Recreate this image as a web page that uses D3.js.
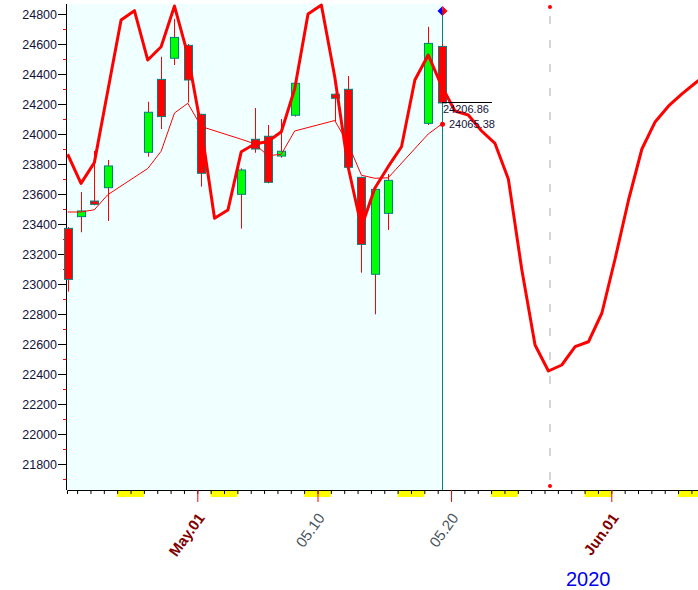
<!DOCTYPE html>
<html><head><meta charset="utf-8">
<script src="https://cdn.jsdelivr.net/npm/d3@7"></script>
<style>body{margin:0;background:#fff}svg{display:block}text{font-family:"Liberation Sans",Arial,sans-serif}</style>
</head><body>
<svg id="chart" width="698" height="590"></svg>
<script>
// ---------- data ----------
const candleDates = ["2020-04-21","2020-04-22","2020-04-23","2020-04-24","2020-04-27","2020-04-28","2020-04-29","2020-04-30","2020-05-01",
  "2020-05-04","2020-05-05","2020-05-06","2020-05-07","2020-05-08","2020-05-11","2020-05-12","2020-05-13","2020-05-14","2020-05-15",
  "2020-05-18","2020-05-19"];
const opens  = [23371,23449,23553,23642,23878,24364,24505,24591,24131,23598,23965,23985,23853,24125,24265,24298,23711,23065,23471,24071,24584];
const highs  = [23380,23613,23887,23827,24215,24515,24767,24600,24135,23771,24173,24060,24100,24345,24270,24387,23715,23635,23733,24715,24600];
const lows   = [22949,23345,23525,23420,23849,24033,24460,24210,23649,23369,23875,23671,23842,24116,24082,23778,23075,22798,23360,24060,24200];
const closes = [23031,23487,23531,23787,24145,24116,24644,24360,23738,23760,23900,23678,23885,24338,24238,23778,23264,23631,23691,24604,24206.86];
const maValues = [23480,23480,23495,23595,23770,23885,24140,24205,24050,23965,23935,23855,23865,24020,24090,23935,23725,23705,23708,24000,24065.38];

// thick forecast line, one value per calendar day from lineStart
const lineStart = "2020-04-21";
const lineValues = [23865,23671,23809,24285,24760,24822,24493,24582,24853,24527,24040,23438,23493,23882,23933,23950,24015,24300,24800,24860,
  24382,23782,23380,23638,23782,23915,24360,24527,24320,24153,24127,24020,23937,23700,23100,22593,22420,22460,22582,22615,22805,
  23170,23560,23900,24082,24187,24267,24340,24410];

const weekendStarts = ["2020-04-25","2020-05-02","2020-05-09","2020-05-16","2020-05-23","2020-05-30","2020-06-06"];
const majorTicks = [{d:"2020-05-01",label:"May.01",month:true},{d:"2020-05-10",label:"05.10",month:false},
  {d:"2020-05-20",label:"05.20",month:false},{d:"2020-06-01",label:"Jun.01",month:true}];
const yMajor = [21800,22000,22200,22400,22600,22800,23000,23200,23400,23600,23800,24000,24200,24400,24600,24800];
const yMinor = [21700,21900,22100,22300,22500,22700,22900,23100,23300,23500,23700,23900,24100,24300,24500,24700];
const markerDate = "2020-05-27";
const yearLabel = "2020";

// ---------- setup ----------
const svg = d3.select("#chart");
const L = 67, R = 698, T = 4, B = 490;
const parse = s => new Date(s + "T00:00:00Z");
const x = d3.scaleUtc().domain([new Date(Date.UTC(2020,3,21,5,50)), new Date(Date.UTC(2020,5,7,11,50))]).range([L, R]);
const y = d3.scaleLinear().domain([21626.67, 24866.67]).range([B, T]);
const shift = d => d3.utcHour.offset(d, 7);   // bar positions within the day
const cx = s => x(shift(parse(s)));

const candles = candleDates.map((d,i) => ({d, o:opens[i], h:highs[i], l:lows[i], c:closes[i], ma:maValues[i]}));
const lastX = Math.round(cx(candleDates[candleDates.length-1]));

svg.append("defs").append("clipPath").attr("id", "clipR")
  .append("rect").attr("x", 0).attr("y", 0).attr("width", R).attr("height", B);

// background of history region
svg.append("rect").attr("x", L).attr("y", T).attr("width", lastX - L).attr("height", B - T).attr("fill", "#f0ffff");

// weekend highlights
svg.append("g").selectAll("rect").data(weekendStarts).join("rect")
  .attr("x", d => x(parse(d))).attr("y", B + 0.5)
  .attr("width", d => Math.min(R, x(d3.utcDay.offset(parse(d), 2))) - x(parse(d)))
  .attr("height", 6.5).attr("fill", "#ffff00");

// x axis day ticks
const days = d3.utcDay.range(parse("2020-04-22"), parse("2020-06-08"));
const xAxis = svg.append("g").attr("transform", `translate(0,${B})`)
  .call(d3.axisBottom(x).tickValues(days).tickSize(4).tickFormat(""));
xAxis.select(".domain").attr("stroke", "#000");
xAxis.selectAll(".tick line").attr("stroke", "#000");
const xMaj = svg.append("g").attr("transform", `translate(0,${B})`)
  .call(d3.axisBottom(x).tickValues(majorTicks.map(t => parse(t.d))).tickSize(12).tickFormat(""));
xMaj.select(".domain").remove();
xMaj.selectAll(".tick line").attr("stroke", "#ff0000");

// x labels
svg.append("g").selectAll("text").data(majorTicks).join("text")
  .attr("transform", t => `translate(${x(parse(t.d)) + 8},${B + 28}) rotate(-54)`)
  .attr("text-anchor", "end")
  .attr("font-size", 15)
  .attr("font-weight", t => t.month ? "bold" : "normal")
  .attr("fill", t => t.month ? "#800000" : "#4a5560")
  .text(t => t.label);

// y axis
const yAxisMin = svg.append("g").attr("transform", `translate(${L},0)`)
  .call(d3.axisLeft(y).tickValues(yMinor).tickSize(4).tickFormat(""));
yAxisMin.select(".domain").remove();
yAxisMin.selectAll(".tick line").attr("stroke", "#ff0000");
const yAxis = svg.append("g").attr("transform", `translate(${L},0)`)
  .call(d3.axisLeft(y).tickValues(yMajor).tickSize(9).tickPadding(1).tickFormat(d3.format("d")));
yAxis.select(".domain").attr("stroke", "#000").attr("d", `M-0.5,${T}V${B}`);
yAxis.selectAll(".tick line").attr("stroke", "#000");
yAxis.selectAll("text").attr("font-size", 12.5).attr("fill", "#12123a").attr("font-family", "Liberation Sans, Arial, sans-serif");

// vertical teal line at last bar
svg.append("line").attr("x1", lastX + 0.5).attr("x2", lastX + 0.5).attr("y1", 10).attr("y2", B).attr("stroke", "#008080");

// candles
const cg = svg.append("g");
candles.forEach(k => {
  const px = Math.round(cx(k.d));
  cg.append("line").attr("x1", px + 0.5).attr("x2", px + 0.5).attr("y1", y(k.h)).attr("y2", y(k.l)).attr("stroke", "#ff0000");
  const top = y(Math.max(k.o, k.c)), bot = y(Math.min(k.o, k.c));
  cg.append("rect").attr("x", px - 3.5).attr("y", top).attr("width", 8).attr("height", Math.max(1, bot - top))
    .attr("fill", k.c >= k.o ? "#00ff00" : "#ff0000").attr("stroke", "#008080").attr("stroke-width", 1);
});

// moving average (thin)
svg.append("path").datum(candles)
  .attr("d", d3.line().x(k => cx(k.d)).y(k => y(k.ma)))
  .attr("fill", "none").attr("stroke", "#ff0000").attr("stroke-width", 1);

// thick forecast line
const lineData = lineValues.map((v,i) => ({d: d3.utcDay.offset(parse(lineStart), i), v}));
svg.append("path").datum(lineData).attr("clip-path", "url(#clipR)")
  .attr("d", d3.line().x(p => x(shift(p.d))).y(p => y(p.v)))
  .attr("fill", "none").attr("stroke", "#ff0000").attr("stroke-width", 3).attr("stroke-linejoin", "round");

// diamond marker at top of last bar
const dy0 = 11;
svg.append("path").attr("d", `M${lastX+0.5},${dy0-5}L${lastX-4.5},${dy0}L${lastX+0.5},${dy0+5}Z`).attr("fill", "#0000ff");
svg.append("path").attr("d", `M${lastX+0.5},${dy0-5}L${lastX+5.5},${dy0}L${lastX+0.5},${dy0+5}Z`).attr("fill", "#ff0000");

// annotations
const last = candles[candles.length-1];
svg.append("line").attr("x1", lastX).attr("x2", lastX + 50).attr("y1", Math.round(y(last.c)) - 0.5).attr("y2", Math.round(y(last.c)) - 0.5).attr("stroke", "#000");
svg.append("text").attr("x", lastX + 1).attr("y", y(last.c) + 10).attr("font-size", 11).attr("fill", "#14143a").text(last.c.toFixed(2));
svg.append("circle").attr("cx", lastX + 0.5).attr("cy", y(last.ma)).attr("r", 2.5).attr("fill", "#ff0000");
svg.append("text").attr("x", lastX + 7).attr("y", y(last.ma) + 3.5).attr("font-size", 11).attr("fill", "#14143a").text(last.ma.toFixed(2));

// dashed marker line
const mx = Math.round(x(shift(parse(markerDate))) + 1.5);
svg.append("line").attr("x1", mx).attr("x2", mx).attr("y1", 16).attr("y2", 480)
  .attr("stroke", "#c8c8c8").attr("stroke-width", 1.5).attr("stroke-dasharray", "8,16");
svg.append("circle").attr("cx", mx).attr("cy", 7).attr("r", 2).attr("fill", "#ff0000");
svg.append("circle").attr("cx", mx).attr("cy", 486).attr("r", 2).attr("fill", "#ff0000");

// year label
svg.append("text").attr("x", 566).attr("y", 586).attr("font-size", 20).attr("fill", "#0000ee").text(yearLabel);
</script>
</body></html>
